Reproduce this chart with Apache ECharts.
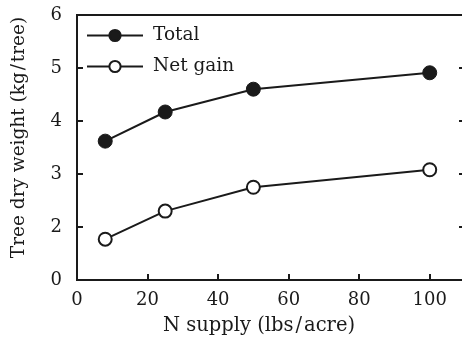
<!DOCTYPE html>
<html><head><meta charset="utf-8">
<script src="https://cdn.jsdelivr.net/npm/echarts@6/dist/echarts.min.js"></script>
<style>html,body{margin:0;padding:0;background:#fff}#c{width:462px;height:339px}</style>
</head><body><div id="c"></div>
<script>
const xSupply = [8, 25, 50, 100];
const totalWeight = [3.62, 4.17, 4.60, 4.91];
const netGain = [1.77, 2.30, 2.75, 3.08];
const yTickValues = [1, 2, 3, 4, 5, 6];
const yTickLabels = ['0', '2', '3', '4', '5', '6'];
const xTickLabels = ['0', '20', '40', '60', '80', '100'];
const seriesNames = ['Total', 'Net gain'];
const xTitle = 'N supply (lbs\u200A/\u200Aacre)';
const yTitle = 'Tree dry weight (kg\u200A/\u200Atree)';

const FONT = 'DejaVu Serif';
const INK = '#1a1a1a';
const chart = echarts.init(document.getElementById('c'), null, {renderer: 'canvas'});
const pair = (xs, ys) => xs.map((x, i) => [x, ys[i]]);
chart.setOption({
  animation: false,
  backgroundColor: '#fff',
  grid: {left: 77, top: 15, width: 388, bottom: 59, outerBoundsMode: 'none', containLabel: false,
    show: true, borderColor: INK, borderWidth: 2, backgroundColor: 'transparent'},
  legend: {
    left: 86, top: 26, orient: 'vertical', itemWidth: 56, itemHeight: 14, itemGap: 12, padding: 0,
    textStyle: {fontFamily: FONT, fontSize: 18.5, color: INK, padding: [0, 0, 0, 5]},
    data: seriesNames
  },
  xAxis: {
    type: 'value', min: 0, max: 110, interval: 20,
    name: xTitle, nameLocation: 'middle', nameGap: 36,
    nameTextStyle: {fontFamily: FONT, fontSize: 19.5, color: INK, padding: [0, 24, 0, 0]},
    axisLine: {lineStyle: {color: INK, width: 2}},
    axisTick: {inside: true, length: 6, lineStyle: {color: INK, width: 2}},
    axisLabel: {fontFamily: FONT, fontSize: 18, color: INK, margin: 11, showMaxLabel: false,
      formatter: v => { const i = Math.round(v / 20); return (v % 20 === 0 && i < xTickLabels.length) ? xTickLabels[i] : ''; }},
    splitLine: {show: false}
  },
  yAxis: [{
    type: 'value', min: 1, max: 6, interval: 1, position: 'left',
    name: yTitle, nameLocation: 'middle', nameGap: 48,
    nameTextStyle: {fontFamily: FONT, fontSize: 18.5, color: INK, padding: [0, 0, 0, 20]},
    axisLine: {show: true, lineStyle: {color: INK, width: 2}},
    axisTick: {show: true, inside: true, length: 6, lineStyle: {color: INK, width: 2}},
    axisLabel: {fontFamily: FONT, fontSize: 18, color: INK, margin: 15,
      formatter: v => { const i = yTickValues.indexOf(Math.round(v)); return i >= 0 ? yTickLabels[i] : ''; }},
    splitLine: {show: false}
  }, {
    type: 'value', min: 1, max: 6, interval: 1, position: 'right',
    axisLine: {show: true, lineStyle: {color: INK, width: 2}},
    axisTick: {show: true, inside: true, length: 6, lineStyle: {color: INK, width: 2}},
    axisLabel: {show: false}, splitLine: {show: false}
  }],
  series: [{
    name: seriesNames[0], type: 'line', data: pair(xSupply, totalWeight),
    symbol: 'circle', symbolSize: 14,
    lineStyle: {color: INK, width: 2}, itemStyle: {color: INK, borderColor: INK, borderWidth: 1}
  }, {
    name: seriesNames[1], type: 'line', data: pair(xSupply, netGain),
    symbol: 'circle', symbolSize: 13,
    lineStyle: {color: INK, width: 2}, itemStyle: {color: '#fff', borderColor: INK, borderWidth: 2}
  }]
});
</script></body></html>
